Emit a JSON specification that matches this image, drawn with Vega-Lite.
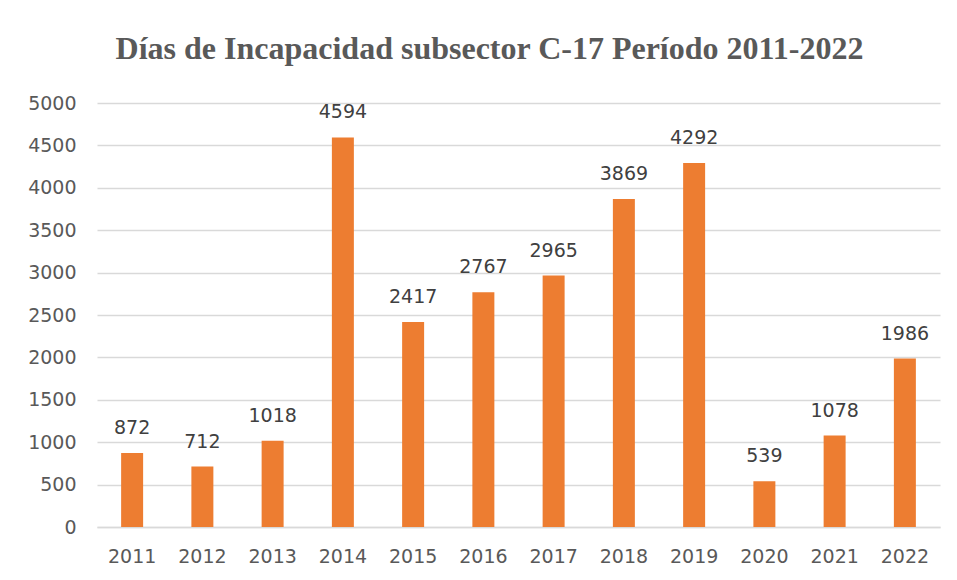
{
  "$schema": "https://vega.github.io/schema/vega-lite/v6.json",
  "width": 843,
  "height": 424,
  "autosize": {"type": "none"},
  "padding": {"left": 97, "top": 103, "right": 17, "bottom": 53},
  "background": "white",
  "title": {
    "text": "Días de Incapacidad subsector C-17 Período 2011-2022",
    "font": "Liberation Serif",
    "fontSize": 32,
    "fontWeight": "bold",
    "color": "#595959",
    "anchor": "middle",
    "frame": "group",
    "dx": -29,
    "offset": 28
  },
  "data": {
    "values": [
      {"year": "2011", "days": 872},
      {"year": "2012", "days": 712},
      {"year": "2013", "days": 1018},
      {"year": "2014", "days": 4594},
      {"year": "2015", "days": 2417},
      {"year": "2016", "days": 2767},
      {"year": "2017", "days": 2965},
      {"year": "2018", "days": 3869},
      {"year": "2019", "days": 4292},
      {"year": "2020", "days": 539},
      {"year": "2021", "days": 1078},
      {"year": "2022", "days": 1986}
    ]
  },
  "encoding": {
    "x": {
      "field": "year",
      "type": "ordinal",
      "scale": {"paddingInner": 0.687, "paddingOuter": 0.3435},
      "axis": {
        "title": null,
        "labelAngle": 0,
        "labelFont": "DejaVu Sans",
        "labelFontSize": 19,
        "labelColor": "#595959",
        "labelPadding": 20,
        "ticks": false,
        "domainColor": "#d9d9d9",
        "domainWidth": 1.5
      }
    },
    "y": {
      "field": "days",
      "type": "quantitative",
      "scale": {"domain": [0, 5000]},
      "axis": {
        "title": null,
        "format": "d",
        "values": [0, 500, 1000, 1500, 2000, 2500, 3000, 3500, 4000, 4500, 5000],
        "labelFont": "DejaVu Sans",
        "labelFontSize": 19,
        "labelColor": "#595959",
        "labelPadding": 21,
        "ticks": false,
        "domain": false,
        "gridColor": "#d9d9d9",
        "gridWidth": 1.5
      }
    }
  },
  "layer": [
    {"mark": {"type": "bar", "color": "#ed7d31"}},
    {
      "mark": {
        "type": "text",
        "baseline": "bottom",
        "dy": -15,
        "font": "DejaVu Sans",
        "fontSize": 19,
        "color": "#404040"
      },
      "encoding": {"text": {"field": "days", "type": "quantitative", "format": "d"}}
    }
  ],
  "config": {"view": {"stroke": null}}
}
